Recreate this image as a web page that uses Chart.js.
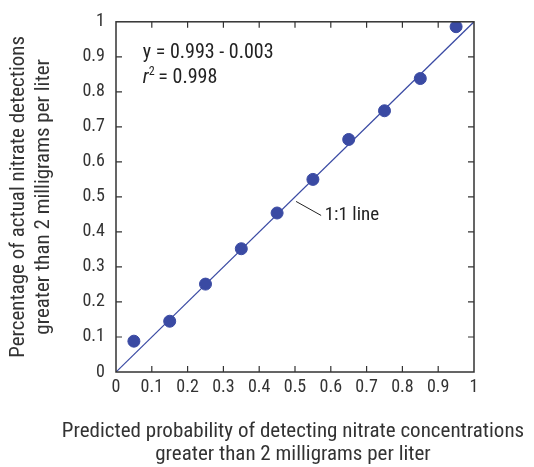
<!DOCTYPE html>
<html>
<head>
<meta charset="utf-8">
<script src="https://cdn.jsdelivr.net/npm/chart.js@4/dist/chart.umd.min.js"></script>
<style>
  html, body { margin: 0; padding: 0; background: #fff; }
  #wrap { width: 534px; height: 467px; }
</style>
</head>
<body>
<div id="wrap"><canvas id="chart" width="534" height="467"></canvas></div>
<script>
const FONT = '"Liberation Sans Narrow", "Roboto Condensed", "Liberation Sans", sans-serif';
const INK = "#333333";
const BLUE = "#3a4aa3";

// predicted probability (x) vs. actual share of detections (y)
const predicted = [0.05, 0.15, 0.25, 0.35, 0.45, 0.55, 0.65, 0.75, 0.85, 0.95];
const actual = [0.088, 0.145, 0.251, 0.352, 0.454, 0.55, 0.664, 0.746, 0.838, 0.986];
const oneToOne = [0, 1];
const xTitle = ["Predicted probability of detecting nitrate concentrations", "greater than 2 milligrams per liter"];
const yTitle = ["Percentage of actual nitrate detections", "greater than 2 milligrams per liter"];
const eqLines = ["y = 0.993 - 0.003", "= 0.998"];
const lineLabel = "1:1 line";

const fmt = (v) => String(Math.round(v * 10) / 10);

const frame = {
  id: "frame",
  afterDraw(chart) {
    const { ctx, chartArea: a, scales } = chart;
    ctx.save();
    ctx.strokeStyle = INK;
    ctx.lineWidth = 1.5;
    ctx.strokeRect(a.left, a.top, a.right - a.left, a.bottom - a.top);
    ctx.lineWidth = 1.2;
    const len = 6;
    scales.x.ticks.forEach((t) => {
      if (t.value <= 0 || t.value >= 1) return;
      const px = scales.x.getPixelForValue(t.value);
      ctx.beginPath();
      ctx.moveTo(px, a.bottom); ctx.lineTo(px, a.bottom - len);
      ctx.moveTo(px, a.top); ctx.lineTo(px, a.top + len);
      ctx.stroke();
    });
    scales.y.ticks.forEach((t) => {
      if (t.value <= 0 || t.value >= 1) return;
      const py = scales.y.getPixelForValue(t.value);
      ctx.beginPath();
      ctx.moveTo(a.left, py); ctx.lineTo(a.left + len, py);
      ctx.moveTo(a.right, py); ctx.lineTo(a.right - len, py);
      ctx.stroke();
    });

    // axis titles
    ctx.fillStyle = INK;
    ctx.font = "21px " + FONT;
    ctx.textAlign = "center";
    ctx.textBaseline = "middle";
    const cx = (a.left + a.right) / 2 - 2;
    ctx.fillText(xTitle[0], cx, 432);
    ctx.fillText(xTitle[1], cx, 455);
    ctx.save();
    ctx.translate(0, (a.top + a.bottom) / 2);
    ctx.rotate(-Math.PI / 2);
    ctx.fillText(yTitle[0], 0, 19);
    ctx.fillText(yTitle[1], 0, 44);
    ctx.restore();

    // equation text
    const x = scales.x, y = scales.y;
    ctx.fillStyle = "#222";
    ctx.font = "20px " + FONT;
    ctx.textAlign = "left";
    const ex = x.getPixelForValue(0.075);
    ctx.fillText(eqLines[0], ex, y.getPixelForValue(0.912));
    const ry = y.getPixelForValue(0.84);
    ctx.font = "italic 20px " + FONT;
    ctx.fillText("r", ex, ry);
    const rw = ctx.measureText("r").width;
    ctx.font = "12px " + FONT;
    ctx.fillText("2", ex + rw, ry - 6);
    ctx.font = "20px " + FONT;
    ctx.fillText(" " + eqLines[1], ex + rw + 5, ry);

    // 1:1 leader + label
    ctx.strokeStyle = "#222";
    ctx.lineWidth = 1;
    ctx.beginPath();
    ctx.moveTo(x.getPixelForValue(0.503), y.getPixelForValue(0.487));
    ctx.lineTo(x.getPixelForValue(0.573), y.getPixelForValue(0.447));
    ctx.stroke();
    ctx.font = "19px " + FONT;
    ctx.fillText(lineLabel, x.getPixelForValue(0.583), y.getPixelForValue(0.447));
    ctx.restore();
  },
};

new Chart(document.getElementById("chart"), {
  type: "scatter",
  data: {
    datasets: [
      {
        type: "line",
        data: oneToOne.map((v) => ({ x: v, y: v })),
        borderColor: BLUE,
        borderWidth: 1.2,
        pointRadius: 0,
        fill: false,
        order: 2,
      },
      {
        data: predicted.map((p, i) => ({ x: p, y: actual[i] })),
        backgroundColor: BLUE,
        borderColor: BLUE,
        pointRadius: 6,
        order: 1,
      },
    ],
  },
  options: {
    responsive: false,
    animation: false,
    layout: { padding: { top: 14, right: 60, left: 0, bottom: 0 } },
    scales: {
      x: {
        type: "linear",
        min: 0, max: 1,
        grid: { display: false, drawTicks: false },
        border: { display: false },
        ticks: { stepSize: 0.1, padding: 5, color: INK, font: { family: FONT, size: 18 }, callback: fmt },
        afterFit: (s) => { s.height = 95; },
      },
      y: {
        type: "linear",
        min: 0, max: 1,
        grid: { display: false, drawTicks: false },
        border: { display: false },
        ticks: { stepSize: 0.1, padding: 11, color: INK, font: { family: FONT, size: 18 }, callback: fmt },
        afterFit: (s) => { s.width = 116; },
      },
    },
    plugins: { legend: { display: false }, tooltip: { enabled: false } },
  },
  plugins: [frame],
});
</script>
</body>
</html>
